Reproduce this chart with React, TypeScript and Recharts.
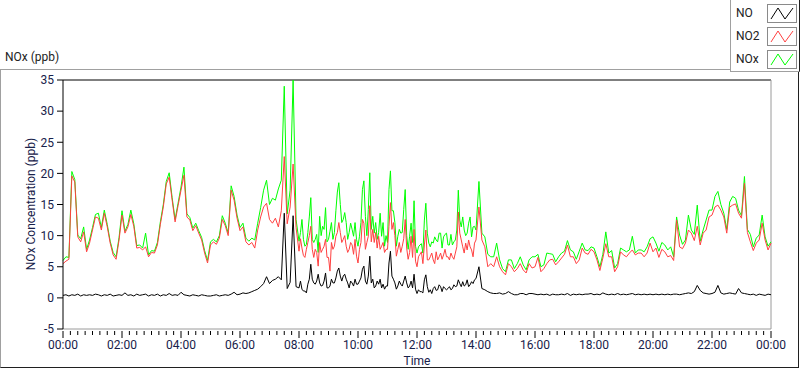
import { Line, LineChart, ReferenceLine, XAxis, YAxis } from "recharts";

// readings: every 6 min, except the busy 08:00–14:00 stretch which is every 3 min
const minutes = [
  ...Array.from({ length: 80 }, (_, i) => i * 6),
  ...Array.from({ length: 120 }, (_, i) => 480 + i * 3),
  ...Array.from({ length: 101 }, (_, i) => 840 + i * 6),
];

const hourLabels = [
  "00:00", "02:00", "04:00", "06:00", "08:00", "10:00", "12:00",
  "14:00", "16:00", "18:00", "20:00", "22:00", "00:00",
];
const yTicks = [-5, 0, 5, 10, 15, 20, 25, 30, 35];

const no2 = [
  // 00–07h
  5.5, 5.9, 6.2, 19.6, 18.6, 9.8, 9.0, 10.6, 7.4, 8.8,
  10.9, 13.0, 12.8, 10.9, 13.6, 11.4, 8.8, 6.9, 6.2, 9.3,
  13.3, 10.4, 11.4, 13.4, 11.5, 8.0, 8.1, 7.7, 8.2, 6.6,
  7.3, 7.2, 8.5, 11.8, 14.6, 18.3, 19.4, 15.7, 12.2, 14.8,
  17.3, 19.7, 13.0, 12.5, 10.8, 11.6, 10.4, 9.3, 7.2, 5.6,
  8.5, 9.0, 8.6, 9.6, 12.6, 11.6, 10.0, 17.3, 15.7, 12.8,
  10.8, 11.4, 9.0, 8.5, 8.9, 8.0, 10.9, 13.0, 14.6, 15.2,
  12.6, 12.0, 12.8, 11.4, 14.0, 22.7, 11.9, 14.6, 21.5, 11.3,
  // 08–13h
  7.5, 9.5, 8.0, 6.8, 6.5, 7.8, 8.9, 10.0, 11.5, 7.8, 6.5, 7.8, 7.3, 5.1, 8.9, 7.3, 7.8, 8.3, 9.4, 6.5,
  6.5, 4.3, 8.9, 7.8, 8.3, 9.9, 10.5, 12.1, 10.5, 8.9, 9.4, 10.0, 8.3, 7.3, 7.8, 8.9, 8.5, 7.0, 9.4, 6.7,
  5.6, 7.8, 8.9, 12.6, 12.0, 7.8, 8.9, 9.9, 14.8, 9.0, 11.0, 8.9, 10.5, 8.0, 9.9, 7.8, 8.3, 8.9, 7.3, 7.8,
  7.8, 11.5, 15.3, 11.0, 12.1, 10.0, 6.7, 7.8, 8.9, 7.3, 8.3, 9.5, 12.6, 8.0, 6.2, 7.3, 9.9, 6.5, 11.0, 5.9,
  5.0, 6.6, 7.0, 7.4, 5.5, 8.5, 10.9, 6.1, 6.1, 6.6, 7.2, 6.1, 5.5, 7.4, 6.1, 6.6, 7.2, 6.2, 6.9, 7.8,
  6.6, 6.6, 6.1, 7.2, 6.6, 6.2, 7.2, 8.2, 13.8, 10.4, 9.3, 8.2, 7.2, 8.8, 7.7, 9.3, 8.2, 7.7, 6.6, 8.8,
  // 14–24h
  9.3, 14.6, 9.3, 8.2, 5.0, 5.5, 5.0, 6.6, 5.0, 4.2,
  3.7, 5.5, 5.0, 4.2, 4.7, 5.5, 4.5, 4.0, 5.5, 4.8,
  5.0, 6.5, 4.2, 4.7, 5.5, 6.1, 6.2, 5.3, 5.8, 6.4,
  7.0, 8.5, 6.6, 6.6, 5.5, 6.1, 8.0, 7.2, 7.0, 7.8,
  7.4, 6.1, 4.4, 6.4, 8.7, 6.6, 6.6, 4.2, 5.0, 7.4,
  6.9, 6.6, 7.2, 7.7, 6.9, 7.2, 7.2, 6.6, 7.2, 8.8,
  7.4, 8.0, 6.5, 7.8, 7.4, 6.6, 6.8, 6.0, 12.5, 8.2,
  7.9, 8.8, 10.9, 10.4, 9.2, 11.5, 8.5, 10.4, 10.9, 13.0,
  13.3, 14.6, 14.9, 14.1, 13.0, 10.4, 14.6, 14.9, 15.1, 13.6,
  12.8, 18.4, 10.5, 9.0, 7.6, 8.8, 9.3, 12.0, 9.3, 7.7,
  8.8,
];

const nox = [
  // 00–07h
  6.0, 6.6, 6.5, 20.3, 19.0, 10.1, 9.5, 11.4, 7.8, 9.3,
  11.3, 13.4, 13.6, 11.3, 14.1, 11.8, 9.1, 7.3, 6.6, 9.7,
  14.0, 10.7, 11.8, 14.1, 11.9, 8.4, 8.5, 8.0, 10.4, 6.9,
  7.6, 7.5, 8.9, 12.2, 15.0, 18.7, 20.1, 16.1, 12.6, 15.2,
  17.8, 21.0, 13.5, 12.9, 11.2, 12.0, 10.8, 9.7, 7.6, 6.0,
  9.0, 9.4, 9.0, 10.0, 13.2, 12.0, 10.4, 18.0, 16.3, 13.3,
  11.3, 12.0, 9.6, 9.1, 9.6, 9.3, 12.0, 14.5, 17.3, 18.9,
  15.0, 16.0, 15.7, 17.5, 18.9, 34.0, 13.5, 17.3, 35.0, 12.6,
  // 08–13h
  9.1, 10.5, 12.6, 9.4, 8.3, 8.6, 10.5, 13.0, 16.1, 9.4, 8.9, 9.4, 10.2, 7.3, 13.1, 10.0, 11.5, 11.0, 14.5, 9.0,
  9.4, 10.7, 12.1, 9.4, 10.5, 14.0, 17.0, 18.5, 15.0, 12.1, 12.6, 13.7, 12.1, 9.4, 10.5, 12.0, 11.0, 9.9, 12.1, 9.4,
  8.3, 9.9, 12.1, 17.4, 18.8, 13.1, 10.0, 14.2, 20.1, 11.0, 13.1, 10.4, 12.1, 9.4, 10.5, 13.6, 9.9, 12.1, 8.3, 10.0,
  8.9, 17.4, 20.4, 14.0, 14.0, 12.1, 8.3, 9.9, 11.0, 10.4, 10.5, 14.2, 17.4, 10.0, 7.8, 9.9, 12.0, 8.9, 15.6, 8.3,
  7.2, 8.2, 8.5, 8.7, 7.2, 12.5, 15.2, 10.4, 8.8, 8.2, 9.0, 8.8, 9.8, 9.3, 9.0, 10.4, 10.4, 8.0, 9.8, 10.2,
  10.4, 8.5, 8.5, 10.2, 8.5, 9.0, 9.3, 10.9, 17.3, 12.5, 11.4, 13.0, 10.9, 10.0, 10.4, 12.0, 13.0, 9.8, 11.4, 11.5,
  // 14–24h
  10.9, 18.7, 10.4, 9.8, 7.0, 6.6, 6.6, 8.8, 6.1, 4.7,
  4.2, 6.1, 6.1, 4.7, 5.5, 6.6, 5.3, 4.5, 6.1, 6.6,
  6.6, 7.0, 5.0, 5.3, 7.2, 7.1, 7.0, 5.8, 6.6, 7.2,
  7.5, 9.2, 7.7, 7.4, 6.2, 7.5, 8.8, 7.7, 7.6, 8.2,
  8.0, 6.6, 5.0, 7.0, 10.6, 7.2, 7.6, 4.8, 5.5, 8.0,
  7.7, 7.4, 7.7, 9.9, 7.2, 7.7, 7.7, 7.4, 8.2, 9.5,
  9.8, 8.8, 7.5, 8.9, 8.5, 7.7, 8.2, 6.6, 13.0, 10.1,
  8.6, 9.3, 13.3, 10.9, 10.2, 14.9, 9.1, 10.9, 12.5, 14.1,
  14.1, 16.3, 17.1, 15.0, 13.6, 11.0, 15.4, 16.3, 16.0, 14.1,
  13.2, 19.5, 11.0, 10.2, 8.2, 9.6, 10.1, 13.3, 9.8, 8.3,
  9.0,
];

const no = [
  // 00–07h
  0.4, 0.5, 0.3, 0.5, 0.4, 0.6, 0.3, 0.5, 0.4, 0.5,
  0.4, 0.6, 0.5, 0.3, 0.5, 0.4, 0.6, 0.3, 0.4, 0.5,
  0.4, 0.8, 0.4, 0.5, 0.3, 0.6, 0.4, 0.5, 0.6, 0.3,
  0.5, 0.4, 0.6, 0.3, 0.5, 0.4, 0.7, 0.4, 0.5, 0.4,
  0.9, 0.5, 0.4, 0.3, 0.5, 0.4, 0.3, 0.5, 0.4, 0.3,
  0.3, 0.4, 0.5, 0.3, 0.4, 0.5, 0.4, 0.6, 0.9, 0.5,
  0.6, 0.8, 0.7, 0.8, 1.0, 1.2, 1.4, 1.8, 2.3, 3.4,
  2.3, 2.8, 3.0, 3.4, 2.9, 13.6, 1.5, 2.5, 13.2, 1.8,
  // 08–13h
  1.6, 2.7, 1.4, 1.1, 1.1, 0.8, 2.2, 3.0, 5.4, 3.0, 2.4, 2.2, 2.7, 3.8, 2.4, 1.9, 2.0, 2.7, 4.0, 1.6,
  1.6, 1.9, 3.0, 2.4, 2.4, 3.2, 4.3, 4.8, 3.5, 2.7, 3.5, 3.8, 3.0, 2.4, 1.6, 2.7, 2.4, 1.9, 3.0, 2.2,
  2.2, 2.7, 3.2, 4.6, 5.1, 2.7, 2.2, 3.5, 6.7, 2.4, 3.0, 1.6, 1.9, 2.7, 2.2, 3.0, 1.6, 2.2, 1.4, 1.9,
  1.9, 5.6, 7.5, 3.5, 3.0, 2.4, 1.4, 1.9, 2.7, 2.2, 1.9, 2.7, 3.5, 2.4, 1.6, 1.9, 2.7, 1.6, 3.8, 1.4,
  0.7, 1.3, 1.0, 1.0, 0.8, 2.9, 3.7, 1.8, 0.9, 1.3, 0.7, 1.5, 1.8, 1.2, 1.3, 2.1, 1.8, 1.0, 1.8, 1.5,
  1.3, 1.5, 1.8, 1.3, 1.5, 2.1, 1.8, 1.9, 2.9, 2.3, 1.8, 2.6, 1.9, 2.1, 2.9, 1.8, 2.1, 2.6, 2.3, 2.9,
  // 14–24h
  3.1, 5.0, 1.5, 1.3, 1.0, 0.8, 0.7, 0.7, 0.8, 0.6,
  0.7, 1.0, 0.7, 0.5, 0.5, 0.7, 0.7, 0.5, 0.7, 0.7,
  0.6, 0.5, 0.6, 0.5, 0.6, 0.4, 0.6, 0.5, 0.5, 0.6,
  0.5, 0.7, 0.4, 0.6, 0.5, 0.6, 0.5, 0.6, 0.6, 0.7,
  0.5, 0.6, 0.5, 0.8, 0.6, 0.5, 0.6, 0.5, 0.7, 0.5,
  0.6, 0.5, 0.6, 0.7, 0.5, 0.6, 0.5, 0.6, 0.5, 0.6,
  0.5, 0.6, 0.5, 0.6, 0.5, 0.6, 0.5, 0.6, 0.6, 0.5,
  0.6, 0.7, 0.8, 0.7, 1.0, 2.0, 1.2, 0.8, 0.7, 0.6,
  0.7, 0.9, 2.0, 0.8, 0.6, 0.7, 0.8, 0.7, 0.6, 1.5,
  0.8, 0.7, 0.6, 0.5, 0.6, 0.4, 0.6, 0.5, 0.4, 0.6,
  0.5,
];

const COLORS = { NO: "#000000", NO2: "#ff4040", NOx: "#00ff00" };
const TEXT = "#18214a";
const FONT = "Roboto, 'Liberation Sans', sans-serif";

const data = minutes.map((m, i) => ({
  minute: m,
  NO: no[i],
  NO2: no2[i],
  NOx: nox[i],
}));

// every 15 minutes, long tick + label on the even hours
const xTicks = Array.from({ length: 24 * 4 + 1 }, (_, i) => i * 15);

const TimeTick = ({ x, y, payload }: any) => {
  const major = payload.value % 120 === 0;
  return (
    <g>
      <line x1={x} x2={x} y1={y + 2} y2={y + (major ? 9 : 6)} stroke="#000" />
      {major && (
        <text x={x} y={y + 20} textAnchor="middle" fontSize={12} fill={TEXT} fontFamily={FONT}>
          {hourLabels[payload.value / 120]}
        </text>
      )}
    </g>
  );
};

const Swatch = ({ color }: { color: string }) => (
  <svg width={30} height={19} style={{ display: "block" }}>
    <rect x={0.5} y={0.5} width={29} height={18} fill="#fff" stroke="#8a8a8a" />
    <polyline points="4,15 11,4 18,15 26,4" fill="none" stroke={color} strokeWidth={1} />
  </svg>
);

const legendItems: { name: string; key: keyof typeof COLORS }[] = [
  { name: "NO", key: "NO" },
  { name: "NO2", key: "NO2" },
  { name: "NOx", key: "NOx" },
];

const App = () => {
  return (
    <div
      style={{
        position: "absolute",
        left: 0,
        top: 0,
        width: 800,
        height: 369,
        background: "#fff",
        fontFamily: FONT,
        color: TEXT,
      }}
    >
      {/* outer frame */}
      <div
        style={{
          position: "absolute",
          left: 0,
          top: 69,
          width: 797,
          height: 297,
          borderLeft: "1px solid #a0a0a0",
          borderTop: "1px solid #a0a0a0",
          borderRight: "1px solid #202020",
          borderBottom: "1px solid #202020",
        }}
      />
      <div style={{ position: "absolute", left: 5, top: 50, fontSize: 12, color: "#222" }}>
        NOx (ppb)
      </div>

      {/* legend */}
      <div
        style={{
          position: "absolute",
          left: 730,
          top: 0,
          width: 68,
          height: 71,
          background: "#fff",
          borderLeft: "1px solid #a0a0a0",
          borderBottom: "1px solid #a0a0a0",
          borderRight: "1px solid #202020",
        }}
      >
        {legendItems.map((item, i) => (
          <div
            key={item.key}
            style={{ position: "absolute", left: 0, top: 4 + i * 23, width: 68, height: 19 }}
          >
            <span style={{ position: "absolute", left: 5, top: 2, fontSize: 12, color: "#222" }}>
              {item.name}
            </span>
            <div style={{ position: "absolute", left: 36, top: 0 }}>
              <Swatch color={COLORS[item.key]} />
            </div>
          </div>
        ))}
      </div>

      <div style={{ position: "absolute", left: 0, top: 0 }}>
        <LineChart
          width={800}
          height={369}
          data={data}
          margin={{ top: 80, right: 29, bottom: 10, left: 8 }}
        >
          <XAxis
            dataKey="minute"
            type="number"
            domain={[0, 1440]}
            ticks={xTicks}
            interval={0}
            tick={<TimeTick />}
            tickSize={0}
            tickMargin={0}
            tickLine={false}
            height={30}
            axisLine={{ stroke: "#9a9a9a" }}
          />
          <YAxis
            type="number"
            domain={[-5, 35]}
            ticks={yTicks}
            interval={0}
            width={55}
            tickSize={6}
            tickMargin={3}
            tickLine={{ stroke: "#000" }}
            axisLine={{ stroke: "#000" }}
            tick={{ fontSize: 12, fill: TEXT, fontFamily: FONT }}
          />
          <ReferenceLine y={35} stroke="#000" ifOverflow="extendDomain" />
          <ReferenceLine x={1440} stroke="#9a9a9a" />
          <Line type="linear" dataKey="NOx" stroke={COLORS.NOx} dot={false} strokeWidth={1} isAnimationActive={false} />
          <Line type="linear" dataKey="NO2" stroke={COLORS.NO2} dot={false} strokeWidth={1} isAnimationActive={false} />
          <Line type="linear" dataKey="NO" stroke={COLORS.NO} dot={false} strokeWidth={1} isAnimationActive={false} />
        </LineChart>
      </div>

      <div
        style={{
          position: "absolute",
          left: 31,
          top: 204,
          transform: "translate(-50%, -50%) rotate(-90deg)",
          whiteSpace: "nowrap",
          fontSize: 12,
        }}
      >
        NOx Concentration (ppb)
      </div>
      <div
        style={{
          position: "absolute",
          left: 417,
          top: 361,
          transform: "translate(-50%, -50%)",
          fontSize: 12,
        }}
      >
        Time
      </div>
    </div>
  );
};

export default App;
